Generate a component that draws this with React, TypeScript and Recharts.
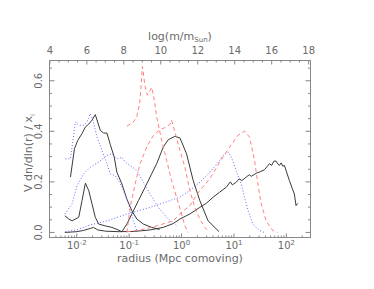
import React from 'react';
import { LineChart, Line, XAxis, YAxis, Label, ReferenceArea } from 'recharts';

// log10(radius / Mpc) and V dn/dln(r) / x_i
const blackA: [number, number][] = [
  [-2.12, 0.219], [-2.044, 0.331], [-1.981, 0.364], [-1.899, 0.391], [-1.835, 0.417],
  [-1.772, 0.428], [-1.709, 0.444], [-1.646, 0.466], [-1.551, 0.404], [-1.487, 0.393],
  [-1.424, 0.393], [-1.361, 0.348], [-1.285, 0.298], [-1.234, 0.238], [-1.139, 0.192],
  [-1.044, 0.132], [-0.949, 0.086], [-0.854, 0.053], [-0.728, 0.033], [-0.57, 0.02],
  [-0.42, 0.012],
];
const blackB: [number, number][] = [
  [-2.228, 0.066], [-2.152, 0.053], [-2.089, 0.046], [-1.962, 0.06], [-1.899, 0.126],
  [-1.835, 0.195], [-1.772, 0.166], [-1.709, 0.113], [-1.646, 0.06], [-1.582, 0.033],
  [-1.456, 0.026], [-1.329, 0.02], [-1.234, 0.012], [-1.139, 0.003], [-1.044, 0.033],
  [-0.949, 0.073], [-0.823, 0.126], [-0.696, 0.179], [-0.57, 0.232], [-0.475, 0.272],
  [-0.348, 0.338], [-0.253, 0.367], [-0.127, 0.38], [-0.032, 0.374], [0.095, 0.311],
  [0.222, 0.205], [0.348, 0.126], [0.506, 0.046], [0.715, 0.003],
];
const blackC: [number, number][] = [
  [-2.228, 0.0], [-2.0, 0.003], [-1.87, 0.008], [-1.74, 0.016], [-1.68, 0.02],
  [-1.6, 0.01], [-1.45, 0.005], [-1.2, 0.003], [-0.9, 0.004], [-0.6, 0.01],
  [-0.35, 0.02], [-0.16, 0.035], [-0.032, 0.053], [0.158, 0.073], [0.348, 0.099],
  [0.47, 0.115], [0.601, 0.139], [0.73, 0.16], [0.854, 0.179], [0.93, 0.2],
  [0.97, 0.188], [1.044, 0.199], [1.1, 0.212], [1.15, 0.205], [1.234, 0.219],
  [1.29, 0.228], [1.33, 0.222], [1.424, 0.234], [1.5, 0.24], [1.582, 0.248],
  [1.63, 0.26], [1.677, 0.272], [1.72, 0.265], [1.76, 0.282], [1.804, 0.282],
  [1.84, 0.27], [1.867, 0.265], [1.9, 0.275], [1.93, 0.262], [1.962, 0.265],
  [2.01, 0.235], [2.057, 0.205], [2.11, 0.175], [2.152, 0.152], [2.184, 0.106],
  [2.215, 0.115],
];
const blueA: [number, number][] = [
  [-2.215, 0.291], [-2.12, 0.291], [-2.025, 0.437], [-1.962, 0.424], [-1.867, 0.424],
  [-1.804, 0.437], [-1.741, 0.47], [-1.69, 0.444], [-1.614, 0.377], [-1.519, 0.325],
  [-1.424, 0.272], [-1.361, 0.232], [-1.266, 0.225], [-1.203, 0.205], [-1.108, 0.166],
  [-1.013, 0.113], [-0.918, 0.046], [-0.854, 0.007],
];
const blueB: [number, number][] = [
  [-2.228, 0.073], [-2.089, 0.113], [-1.994, 0.185], [-1.867, 0.232], [-1.741, 0.258],
  [-1.582, 0.278], [-1.424, 0.305], [-1.329, 0.311], [-1.266, 0.298], [-1.203, 0.291],
  [-1.139, 0.298], [-1.076, 0.278], [-0.981, 0.265], [-0.854, 0.245], [-0.728, 0.199],
  [-0.601, 0.152], [-0.443, 0.099], [-0.285, 0.06], [-0.095, 0.026],
];
const blueC: [number, number][] = [
  [-2.22, 0.003], [-2.0, 0.01], [-1.74, 0.03], [-1.42, 0.046], [-1.04, 0.073],
  [-0.6, 0.099], [-0.3, 0.12], [-0.03, 0.14], [0.16, 0.166], [0.35, 0.199],
  [0.54, 0.238], [0.7, 0.278], [0.79, 0.305], [0.89, 0.318], [0.95, 0.298],
  [1.04, 0.245], [1.14, 0.19], [1.2, 0.14], [1.27, 0.086], [1.36, 0.033],
  [1.49, 0.007], [1.58, 0.0],
];
const redA: [number, number][] = [
  [-1.044, 0.42], [-0.918, 0.437], [-0.854, 0.457], [-0.8, 0.51], [-0.778, 0.563],
  [-0.747, 0.656], [-0.696, 0.576], [-0.652, 0.543], [-0.614, 0.556], [-0.57, 0.574],
  [-0.525, 0.53], [-0.475, 0.457], [-0.38, 0.364], [-0.285, 0.285], [-0.19, 0.205],
  [-0.095, 0.139], [0.0, 0.073], [0.063, 0.026], [0.127, 0.0],
];
const redB: [number, number][] = [
  [-1.044, 0.0], [-0.981, 0.099], [-0.886, 0.192], [-0.791, 0.272], [-0.665, 0.338],
  [-0.538, 0.384], [-0.411, 0.407], [-0.285, 0.417], [-0.222, 0.428], [-0.19, 0.444],
  [-0.127, 0.397], [-0.032, 0.325], [0.063, 0.258], [0.158, 0.166], [0.253, 0.099],
  [0.348, 0.053], [0.443, 0.02], [0.506, 0.007],
];
const redC: [number, number][] = [
  [-1.044, 0.003], [-0.791, 0.009], [-0.475, 0.026], [-0.158, 0.046], [-0.032, 0.073],
  [0.158, 0.106], [0.348, 0.166], [0.538, 0.212], [0.728, 0.278], [0.918, 0.338],
  [1.076, 0.384], [1.203, 0.401], [1.297, 0.377], [1.392, 0.285], [1.456, 0.192],
  [1.519, 0.113], [1.614, 0.046], [1.741, 0.007], [1.835, 0.0],
];

const radiusDecades = [-3, -2, -1, 0, 1, 2];
const radiusMultipliers = [1, 2, 3, 4, 5, 6, 7, 8, 9];
const massLabels = [4, 6, 8, 10, 12, 14, 16, 18];
const yLabels = [0, 0.2, 0.4, 0.6];

const xDomain = [-2.52, 2.46];
const massDomain = [3.98, 18.1];
const yDomain = [-0.02, 0.68];

const radiusTicks = radiusDecades
  .flatMap((d) => radiusMultipliers.map((m) => d + Math.log10(m)))
  .filter((t) => t >= xDomain[0] && t <= xDomain[1]);
const massTicks = Array.from({ length: 29 }, (_, i) => 4 + i * 0.5);
const yTicks = Array.from({ length: 14 }, (_, i) => i * 0.05);

const AXIS = '#888';
const TEXT = '#6a6a6a';
const FONT = '"DejaVu Sans", Arial, sans-serif';
const BLACK = '#3a3a3a';
const BLUE = '#6666ff';
const RED = '#ff8080';

const toPts = (arr: [number, number][]) => arr.map(([lr, v]) => ({ lr, v }));

const near = (a: number, b: number) => Math.abs(a - b) < 1e-6;

const RadiusTick = (props: any) => {
  const { x, y, payload } = props;
  const v = payload.value;
  const major = near(v, Math.round(v));
  return (
    <g>
      <line x1={x} x2={x} y1={y} y2={y - (major ? 4 : 2)} stroke={AXIS} strokeWidth={1} />
      {major && (
        <text x={x} y={y + 11} textAnchor="middle" fill={TEXT} fontSize={10} fontFamily={FONT}>
          10<tspan dy={-4} fontSize={7}>{Math.round(v)}</tspan>
        </text>
      )}
    </g>
  );
};

const MassTick = (props: any) => {
  const { x, y, payload } = props;
  const v = payload.value;
  const major = massLabels.some((m) => near(m, v));
  return (
    <g>
      <line x1={x} x2={x} y1={y} y2={y + (major ? 4 : 2)} stroke={AXIS} strokeWidth={1} />
      {major && (
        <text x={x} y={y - 7} textAnchor="middle" fill={TEXT} fontSize={10} fontFamily={FONT}>
          {v}
        </text>
      )}
    </g>
  );
};

const LeftTick = (props: any) => {
  const { x, y, payload } = props;
  const v = payload.value;
  const major = yLabels.some((m) => near(m, v));
  return (
    <g>
      <line x1={x} x2={x + (major ? 5 : 2.5)} y1={y} y2={y} stroke={AXIS} strokeWidth={1} />
      {major && (
        <text
          x={x - 7}
          y={y}
          transform={`rotate(-90, ${x - 7}, ${y})`}
          textAnchor="middle"
          fill={TEXT}
          fontSize={10}
          fontFamily={FONT}
        >
          {v.toFixed(1)}
        </text>
      )}
    </g>
  );
};

const RightTick = (props: any) => {
  const { x, y, payload } = props;
  const major = yLabels.some((m) => near(m, payload.value));
  return <line x1={x} x2={x - (major ? 5 : 2.5)} y1={y} y2={y} stroke={AXIS} strokeWidth={1} />;
};

const series = [
  { data: blackA, color: BLACK, dash: undefined },
  { data: blackB, color: BLACK, dash: undefined },
  { data: blackC, color: BLACK, dash: undefined },
  { data: blueA, color: BLUE, dash: '1 2' },
  { data: blueB, color: BLUE, dash: '1 2' },
  { data: blueC, color: BLUE, dash: '1 2' },
  { data: redA, color: RED, dash: '4 3' },
  { data: redB, color: RED, dash: '4 3' },
  { data: redC, color: RED, dash: '4 3' },
];

// empty helper rows so the mass axis and the right axis get ticks
const massAxisRows = massLabels.map((m) => ({ m, v: null }));

export default function App() {
  return (
    <div style={{ position: 'absolute', left: 0, top: 0, background: '#fff' }}>
      <LineChart width={374} height={289} margin={{ top: 40.5, right: 43.5, bottom: 31.5, left: 29.5 }}>
        <XAxis
          xAxisId="r"
          dataKey="lr"
          type="number"
          domain={xDomain}
          allowDataOverflow
          ticks={radiusTicks}
          interval={0}
          height={20}
          tickSize={0}
          tickMargin={0}
          tickLine={false}
          axisLine={{ stroke: AXIS }}
          tick={(p: any) => <RadiusTick {...p} />}
        >
          <Label
            content={(p: any) => {
              const vb = p.viewBox;
              return (
                <text x={vb.x + vb.width / 2} y={vb.y + 24} textAnchor="middle" fill={TEXT} fontSize={11} fontFamily={FONT}>
                  radius (Mpc comoving)
                </text>
              );
            }}
          />
        </XAxis>
        <XAxis
          xAxisId="m"
          dataKey="m"
          orientation="top"
          type="number"
          domain={massDomain}
          allowDataOverflow
          ticks={massTicks}
          interval={0}
          height={20}
          tickSize={0}
          tickMargin={0}
          tickLine={false}
          axisLine={{ stroke: AXIS }}
          tick={(p: any) => <MassTick {...p} />}
        >
          <Label
            content={(p: any) => {
              const vb = p.viewBox;
              return (
                <text x={vb.x + vb.width / 2} y={vb.y + vb.height - 21} textAnchor="middle" fill={TEXT} fontSize={11} fontFamily={FONT}>
                  log(m/m<tspan dy={2} fontSize={7}>Sun</tspan><tspan dy={-2}>)</tspan>
                </text>
              );
            }}
          />
        </XAxis>
        <YAxis
          yAxisId="l"
          type="number"
          domain={yDomain}
          allowDataOverflow
          ticks={yTicks}
          interval={0}
          width={20}
          tickSize={0}
          tickMargin={0}
          tickLine={false}
          axisLine={{ stroke: AXIS }}
          tick={(p: any) => <LeftTick {...p} />}
        >
          <Label
            content={(p: any) => {
              const vb = p.viewBox;
              const cx = vb.x + vb.width - 18;
              const cy = vb.y + vb.height / 2 + 4;
              return (
                <text x={cx} y={cy} transform={`rotate(-90, ${cx}, ${cy})`} textAnchor="middle" fill={TEXT} fontSize={11} fontFamily={FONT}>
                  V dn/dln(r) / x<tspan dy={3} fontSize={7}>i</tspan>
                </text>
              );
            }}
          />
        </YAxis>
        <YAxis
          yAxisId="rt"
          orientation="right"
          type="number"
          domain={yDomain}
          allowDataOverflow
          ticks={yTicks}
          interval={0}
          width={20}
          tickSize={0}
          tickMargin={0}
          tickLine={false}
          axisLine={{ stroke: AXIS }}
          tick={(p: any) => <RightTick {...p} />}
        />
        <ReferenceArea
          xAxisId="r"
          yAxisId="l"
          x1={xDomain[0]}
          x2={xDomain[1]}
          y1={yDomain[0]}
          y2={yDomain[1]}
          fill="none"
          stroke={AXIS}
          strokeWidth={1}
          ifOverflow="visible"
        />
        <Line
          xAxisId="m"
          yAxisId="rt"
          data={massAxisRows}
          dataKey="v"
          stroke="none"
          dot={false}
          activeDot={false}
          legendType="none"
          isAnimationActive={false}
        />
        {series.map((s, i) => (
          <Line
            key={i}
            xAxisId="r"
            yAxisId="l"
            data={toPts(s.data)}
            dataKey="v"
            type="linear"
            stroke={s.color}
            strokeWidth={1}
            strokeDasharray={s.dash}
            dot={false}
            activeDot={false}
            isAnimationActive={false}
          />
        ))}
      </LineChart>
    </div>
  );
}
